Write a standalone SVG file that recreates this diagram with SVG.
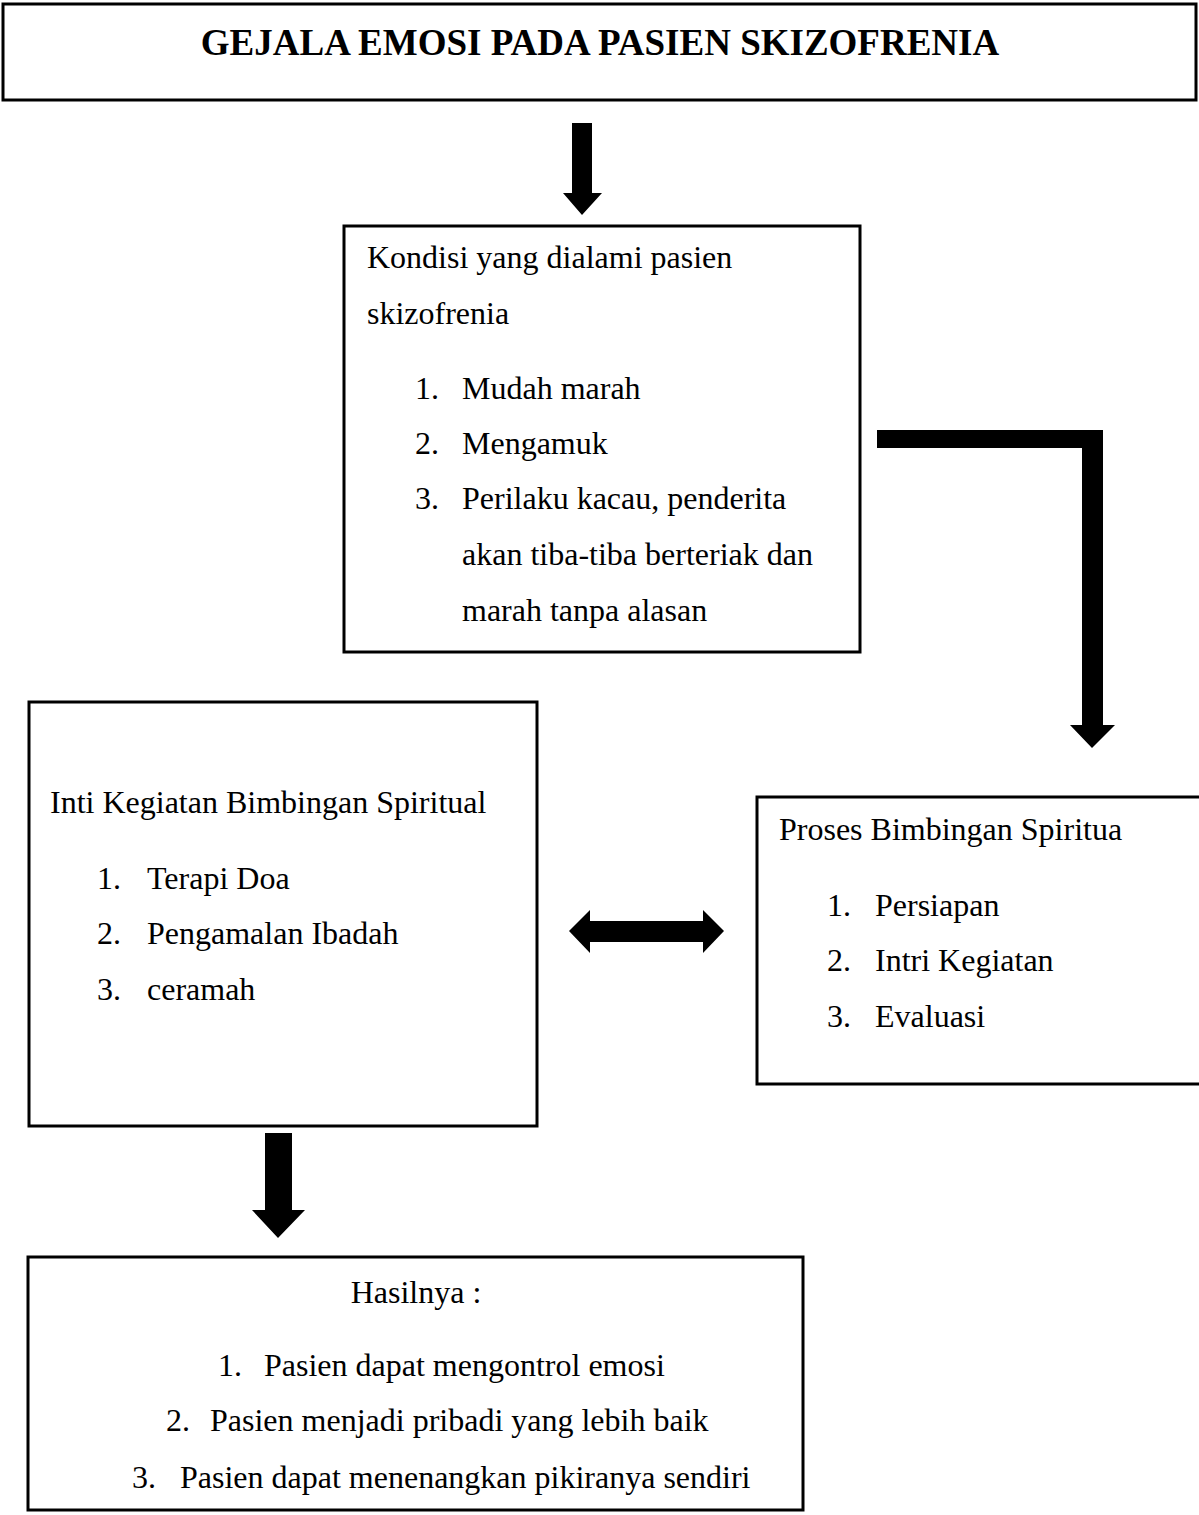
<svg xmlns="http://www.w3.org/2000/svg" width="1199" height="1515" viewBox="0 0 1199 1515">
<style>
.box{fill:#fff;stroke:#000;stroke-width:3}
.t{font-family:"Liberation Serif","Times New Roman",serif;font-size:32px;fill:#000}
.h{font-family:"Liberation Serif","Times New Roman",serif;font-size:37px;font-weight:bold;fill:#000}
.arr{fill:#000}
</style>
<rect width="1199" height="1515" fill="#fff"/>
<g id="title">
<rect class="box" x="3" y="4" width="1193" height="96"/>
<text class="h" x="600" y="55" text-anchor="middle">GEJALA EMOSI PADA PASIEN SKIZOFRENIA</text>
</g>
<g id="kondisi">
<rect class="box" x="344" y="226" width="516" height="426"/>
<text class="t" x="367" y="268">Kondisi yang dialami pasien</text>
<text class="t" x="367" y="324">skizofrenia</text>
<text class="t" x="415" y="399">1.</text><text class="t" x="462" y="399">Mudah marah</text>
<text class="t" x="415" y="454">2.</text><text class="t" x="462" y="454">Mengamuk</text>
<text class="t" x="415" y="509">3.</text><text class="t" x="462" y="509">Perilaku kacau, penderita</text>
<text class="t" x="462" y="565">akan tiba-tiba berteriak dan</text>
<text class="t" x="462" y="621">marah tanpa alasan</text>
</g>
<g id="inti">
<rect class="box" x="29" y="702" width="508" height="424"/>
<text class="t" x="50" y="813">Inti Kegiatan Bimbingan Spiritual</text>
<text class="t" x="97" y="889">1.</text><text class="t" x="147" y="889">Terapi Doa</text>
<text class="t" x="97" y="944">2.</text><text class="t" x="147" y="944">Pengamalan Ibadah</text>
<text class="t" x="97" y="1000">3.</text><text class="t" x="147" y="1000">ceramah</text>
</g>
<g id="proses">
<rect class="box" x="757" y="797" width="450" height="287"/>
<text class="t" x="779" y="840">Proses Bimbingan Spiritua</text>
<text class="t" x="827" y="916">1.</text><text class="t" x="875" y="916">Persiapan</text>
<text class="t" x="827" y="971">2.</text><text class="t" x="875" y="971">Intri Kegiatan</text>
<text class="t" x="827" y="1027">3.</text><text class="t" x="875" y="1027">Evaluasi</text>
</g>
<g id="hasil">
<rect class="box" x="28" y="1257" width="775" height="253"/>
<text class="t" x="416" y="1303" text-anchor="middle">Hasilnya :</text>
<text class="t" x="218" y="1376">1.</text><text class="t" x="264" y="1376">Pasien dapat mengontrol emosi</text>
<text class="t" x="166" y="1431">2.</text><text class="t" x="210" y="1431">Pasien menjadi pribadi yang lebih baik</text>
<text class="t" x="132" y="1488">3.</text><text class="t" x="180" y="1488">Pasien dapat menenangkan pikiranya sendiri</text>
</g>
<g id="connectors">
<polygon class="arr" points="572,123 592,123 592,193 602,193 582,215 563,193 572,193"/>
<polygon class="arr" points="877,430 1103,430 1103,725 1115,725 1092,748 1070,725 1082,725 1082,448 877,448"/>
<polygon class="arr" points="569,931 590,910 590,921 703,921 703,910 724,931 703,953 703,942 590,942 590,953"/>
<polygon class="arr" points="265,1133 292,1133 292,1210 305,1210 278,1238 252,1210 265,1210"/>
</g>
</svg>
